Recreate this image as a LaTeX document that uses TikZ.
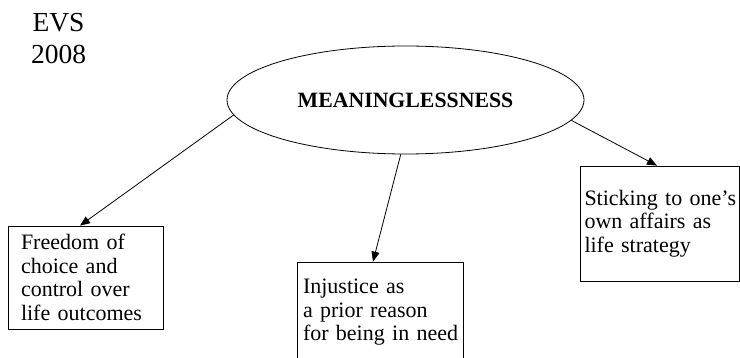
\documentclass[tikz,border=0pt]{standalone}
\usepackage{fontspec}
\setmainfont{Liberation Serif}
\usetikzlibrary{arrows.meta,shapes.geometric}
\tikzset{
  boxnode/.style={draw, line width=0.8pt, rectangle, align=left, inner ysep=0pt,
    font=\fontsize{22}{23.5}\selectfont},
  conn/.style={draw, line width=0.8pt, -{Triangle[length=10pt,width=8pt]}},
}
\begin{document}
\begin{tikzpicture}[x=1pt,y=-1pt]
\useasboundingbox (0,0) rectangle (740,358);
\clip (0,0) rectangle (740,358);
\node[inner sep=0pt, align=center, font=\fontsize{27.5}{32}\selectfont] (title) at (58.5,38.5) {EVS\\2008};
\node[draw, ellipse, line width=0.8pt, minimum width=357pt, minimum height=108pt, inner sep=0pt,
  font=\fontsize{21.8}{24}\selectfont\bfseries] (m) at (405.5,100) {MEANINGLESSNESS};
\node[boxnode, text width=129pt, inner xsep=13pt, minimum height=103pt] (b1) at (85.5,277.5)
  {\mbox{Freedom of}\\\mbox{choice and}\\\mbox{control over}\\\mbox{life outcomes}};
\node[boxnode, text width=154pt, inner xsep=6pt, minimum height=101pt] (b2) at (380,312.5)
  {\mbox{Injustice as}\\\mbox{a prior reason}\\\mbox{for being in need}};
\node[boxnode, text width=150pt, inner xsep=4.5pt, minimum height=115pt] (b3) at (659.5,223.5)
  {\mbox{Sticking to one’s}\\\mbox{own affairs as}\\\mbox{life strategy}};
\draw[conn] (m.185.7) -- ([xshift=-5.5pt]b1.north);
\draw[conn] (m.265) -- ([xshift=-7pt]b2.north);
\draw[conn] (m.353.2) -- ([xshift=-2.5pt]b3.north);
\end{tikzpicture}
\end{document}
